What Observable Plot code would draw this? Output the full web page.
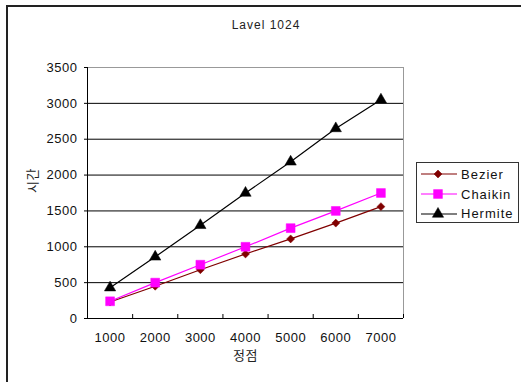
<!DOCTYPE html>
<html><head><meta charset="utf-8">
<script src="https://cdn.jsdelivr.net/npm/d3@7"></script>
<script src="https://cdn.jsdelivr.net/npm/@observablehq/plot@0.6"></script>
<style>
body{margin:0;background:#fff;}
#wrap{position:relative;width:521px;height:382px;overflow:hidden;font-family:"Liberation Sans",Arial,sans-serif;color:#111;}
#frame{position:absolute;left:6px;top:4.5px;width:600px;height:500px;border-left:2px solid #222;border-top:2px solid #222;}
#chart{position:absolute;left:0;top:0;}
#title{position:absolute;left:0;width:532px;top:18px;line-height:14px;text-align:center;font-size:12px;letter-spacing:1px;color:#222;}
#legend{position:absolute;left:416px;top:162px;width:101px;height:59px;border:1px solid #333;background:#fff;}
.item{position:absolute;left:4px;height:20px;display:flex;align-items:center;font-size:13px;letter-spacing:1px;white-space:nowrap;}
.item svg{margin-right:4px;}
</style></head><body>
<div id="wrap"><div id="frame"></div><div id="chart"></div><div id="title">Lavel 1024</div><div id="legend"></div></div>
<script>
const vertices = [1000, 2000, 3000, 4000, 5000, 6000, 7000];
const boundaries = [1500, 2500, 3500, 4500, 5500, 6500, 7500];
const yTicks = [0, 500, 1000, 1500, 2000, 2500, 3000, 3500];
const series = ["Bezier", "Chaikin", "Hermite"];
const bezier = [230, 450, 680, 900, 1110, 1330, 1560];
const chaikin = [240, 500, 750, 1000, 1260, 1500, 1750];
const hermite = [430, 860, 1300, 1750, 2185, 2650, 3050];
const colors = ["#800000", "#FF00FF", "#000000"];
const symbols = ["diamond2", "square", "triangle"];
const radii = [3.6, 5, 4.2];

const values = [bezier, chaikin, hermite];
const rows = series.map((s, i) => vertices.map((v, j) => ({vertex: v, time: values[i][j], series: s})));

const seriesMarks = series.flatMap((s, i) => [
  Plot.line(rows[i], {x: "vertex", y: "time", stroke: colors[i], strokeWidth: 1.2}),
  Plot.dot(rows[i], {x: "vertex", y: "time", symbol: symbols[i], fill: colors[i], stroke: colors[i], strokeWidth: 0.5, r: radii[i]})
]);

const chart = Plot.plot({
  width: 521, height: 382,
  marginTop: 67, marginBottom: 64, marginLeft: 87, marginRight: 118,
  style: {fontFamily: "Liberation Sans, Arial, sans-serif", fontSize: "13px", letterSpacing: "0.5px", color: "#111", background: "transparent", overflow: "visible"},
  x: {type: "linear", domain: [500, 7500]},
  y: {domain: [0, 3500]},
  marks: [
    Plot.ruleY(yTicks.filter(t => t > 0 && t < 3500), {stroke: "#000", strokeWidth: 1}),
    Plot.ruleY([3500], {stroke: "#999"}),
    Plot.ruleX([7500], {stroke: "#999"}),
    Plot.axisY({ticks: yTicks, tickSize: 3, tickPadding: 7, label: null, tickFormat: d => String(d), fontSize: 13, stroke: "#000"}),
    Plot.axisX({ticks: boundaries, tickSize: 4, dy: -4, tickFormat: () => "", label: null, stroke: "#000"}),
    Plot.axisX({ticks: vertices, tickSize: 0, tickPadding: 14, tickFormat: d => String(d), label: null, fontSize: 13}),
    Plot.ruleX([500], {stroke: "#000"}),
    Plot.ruleY([0], {stroke: "#000"}),
    ...seriesMarks,
    Plot.text(["정점"], {frameAnchor: "bottom", dy: 41, fontSize: 13, fontFamily: "Noto Sans CJK KR", fill: "#222"}),
    Plot.text(["시간"], {frameAnchor: "left", dx: -55, rotate: -90, fontSize: 13, fontFamily: "Noto Sans CJK KR", fill: "#222"})
  ]
});
document.getElementById("chart").appendChild(chart);

const legend = document.getElementById("legend");
const tops = [1, 21, 40.5];
series.forEach((s, i) => {
  const item = document.createElement("div");
  item.className = "item";
  item.style.top = tops[i] + "px";
  const sym = d3.symbol(i === 0 ? d3.symbolDiamond2 : i === 1 ? d3.symbolSquare : d3.symbolTriangle, radii[i] * radii[i] * Math.PI)();
  item.innerHTML = `<svg width="36" height="20"><line x1="0" x2="36" y1="10" y2="10" stroke="${colors[i]}" stroke-width="1.2"/><path transform="translate(17,10)" d="${sym}" fill="${colors[i]}" stroke="${colors[i]}" stroke-width="0.5"/></svg><span>${s}</span>`;
  legend.appendChild(item);
});
</script>
</body></html>
